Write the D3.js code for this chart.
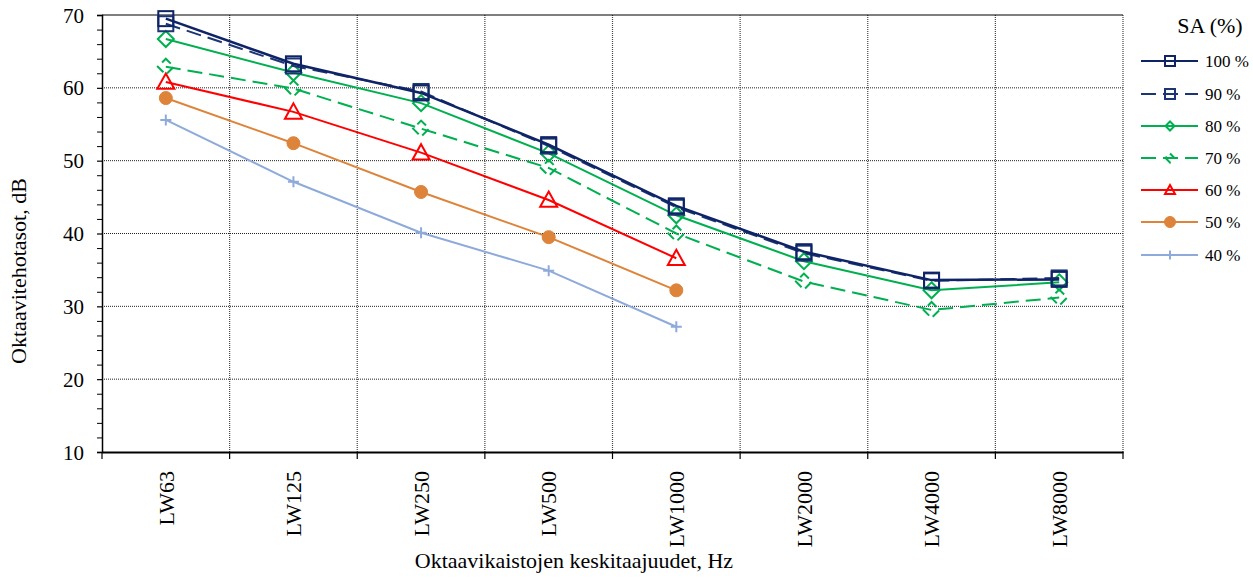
<!DOCTYPE html>
<html>
<head>
<meta charset="utf-8">
<script src="https://cdn.jsdelivr.net/npm/d3@7/dist/d3.min.js"></script>
<style>
  html, body { margin: 0; padding: 0; background: #fff; }
  svg { display: block; font-family: "Liberation Serif", "Times New Roman", serif; }
</style>
</head>
<body>
<svg id="chart" width="1253" height="585"></svg>
<script>
// ---- data ----
const categories = ["LW63", "LW125", "LW250", "LW500", "LW1000", "LW2000", "LW4000", "LW8000"];
const seriesNames = ["100 %", "90 %", "80 %", "70 %", "60 %", "50 %", "40 %"];
const sa100 = [69.5, 63.3, 59.3, 52.2, 43.8, 37.5, 33.6, 33.7];
const sa90  = [68.8, 63.0, 59.5, 52.0, 43.6, 37.3, 33.5, 33.9];
const sa80  = [66.7, 62.1, 57.9, 51.0, 42.5, 36.2, 32.2, 33.3];
const sa70  = [62.9, 59.9, 54.4, 49.0, 40.0, 33.4, 29.5, 31.2];
const sa60  = [60.8, 56.7, 51.1, 44.6, 36.6, null, null, null];
const sa50  = [58.6, 52.4, 45.7, 39.5, 32.2, null, null, null];
const sa40  = [55.6, 47.1, 40.1, 34.9, 27.2, null, null, null];
const yTicks = [10, 20, 30, 40, 50, 60, 70];
const yTitle = "Oktaavitehotasot, dB";
const xTitle = "Oktaavikaistojen keskitaajuudet, Hz";
const legendTitle = "SA (%)";

const seriesValues = [sa100, sa90, sa80, sa70, sa60, sa50, sa40];
const styles = [
  { color: "#0e2466", dash: null,   marker: "square",   width: 2.5 },
  { color: "#1c3574", dash: "15,7", marker: "square",   width: 2 },
  { color: "#00b050", dash: null,   marker: "diamond",  width: 2 },
  { color: "#00b050", dash: "15,7", marker: "diamond",  width: 2, markerDash: true },
  { color: "#ff0000", dash: null,   marker: "triangle", width: 2 },
  { color: "#dd843a", dash: null,   marker: "circle",   width: 2 },
  { color: "#8eaadb", dash: null,   marker: "plus",     width: 2 }
];

// ---- layout ----
const svg = d3.select("#chart");
const L = 102, R = 1123, T = 15, B = 452;

const x = d3.scaleBand().domain(categories).range([L, R]).padding(0);
const y = d3.scaleLinear().domain([10, 70]).range([B, T]);
const cx = c => x(c) + x.bandwidth() / 2;

// gridlines (dotted)
const grid = svg.append("g");
yTicks.filter(t => t > 10 && t < 70).forEach(t => {
  grid.append("line").attr("x1", L).attr("x2", R).attr("y1", y(t)).attr("y2", y(t))
    .attr("stroke", "#222").attr("stroke-width", 1).attr("stroke-dasharray", "1,1");
});
const bounds = categories.map(c => x(c)).slice(1).concat([R]);
bounds.forEach(bx => {
  grid.append("line").attr("x1", bx).attr("x2", bx).attr("y1", T).attr("y2", B)
    .attr("stroke", "#444").attr("stroke-width", 1.2).attr("stroke-dasharray", "1,1");
});
// top border
svg.append("line").attr("x1", L).attr("x2", R).attr("y1", T).attr("y2", T)
  .attr("stroke", "#000").attr("stroke-width", 1.2);

// y axis
const yAxis = d3.axisLeft(y).tickValues(yTicks).tickSize(5).tickFormat(d3.format("d"));
const gy = svg.append("g").attr("transform", `translate(${L},0)`).call(yAxis);
gy.select(".domain").attr("stroke", "#000").attr("stroke-width", 1.5);
gy.selectAll(".tick line").attr("stroke", "#000").attr("stroke-width", 1.2);
gy.selectAll(".tick text").attr("font-size", 21).attr("fill", "#000")
  .attr("font-family", "Liberation Serif").attr("x", -18).attr("dy", "0.34em");
const minor = d3.range(12, 70, 2).filter(v => v % 10 !== 0);
const yMinor = d3.axisLeft(y).tickValues(minor).tickSize(5).tickFormat("");
const gym = svg.append("g").attr("transform", `translate(${L},0)`).call(yMinor);
gym.select(".domain").remove();
gym.selectAll(".tick line").attr("stroke", "#000").attr("stroke-width", 1);

// x axis
const xAxis = d3.axisBottom(x).tickSize(0).tickFormat(d => d);
const gx = svg.append("g").attr("transform", `translate(0,${B})`).call(xAxis);
gx.select(".domain").attr("stroke", "#000").attr("stroke-width", 2);
gx.selectAll(".tick text")
  .attr("font-size", 22).attr("fill", "#000").attr("font-family", "Liberation Serif")
  .attr("text-anchor", "end").attr("dy", "0.35em")
  .attr("transform", "translate(0,19) rotate(-90)").attr("x", 0).attr("y", 0);
[L].concat(bounds).forEach(bx => {
  svg.append("line").attr("x1", bx).attr("x2", bx).attr("y1", B).attr("y2", B + 7)
    .attr("stroke", "#000").attr("stroke-width", 1.2);
});

// axis titles
svg.append("text").attr("transform", "translate(26,271) rotate(-90)")
  .attr("text-anchor", "middle").attr("font-size", 22).attr("fill", "#000").text(yTitle);
svg.append("text").attr("x", 574).attr("y", 568)
  .attr("text-anchor", "middle").attr("font-size", 22).attr("fill", "#000").text(xTitle);

// markers
function marker(g, type, px, py, s, st) {
  const h = s / 2;
  let m;
  if (type === "square") {
    m = g.append("rect").attr("x", px - h).attr("y", py - h).attr("width", s).attr("height", s)
      .attr("fill", "none").attr("stroke", st.color).attr("stroke-width", 2);
  } else if (type === "diamond") {
    m = g.append("path").attr("d", `M${px},${py - h}L${px + h},${py}L${px},${py + h}L${px - h},${py}Z`)
      .attr("fill", "none").attr("stroke", st.color).attr("stroke-width", 2);
    if (st.markerDash) m.attr("stroke-dasharray", "9,5").attr("stroke-dashoffset", 2);
  } else if (type === "triangle") {
    m = g.append("path").attr("d", `M${px},${py - h}L${px + h},${py + h * 0.8}L${px - h},${py + h * 0.8}Z`)
      .attr("fill", "none").attr("stroke", st.color).attr("stroke-width", 2);
  } else if (type === "circle") {
    m = g.append("circle").attr("cx", px).attr("cy", py).attr("r", h)
      .attr("fill", st.color).attr("stroke", st.color).attr("stroke-width", 1);
  } else if (type === "plus") {
    g.append("path").attr("d", `M${px - h},${py}H${px + h}M${px},${py - h}V${py + h}`)
      .attr("stroke", st.color).attr("stroke-width", 2).attr("fill", "none");
  }
}
const markerSize = { square: 15, diamond: 16, triangle: 17, circle: 13, plus: 11 };
const legendMarkerSize = { square: 10, diamond: 9, triangle: 10, circle: 11, plus: 9 };

// series
const line = d3.line().defined(d => d.v != null).x(d => cx(d.c)).y(d => y(d.v));
const order = [6, 5, 4, 3, 2, 1, 0];
order.forEach(i => {
  const st = styles[i];
  const pts = categories.map((c, j) => ({ c, v: seriesValues[i][j] })).filter(d => d.v != null);
  const g = svg.append("g");
  g.append("path").datum(pts).attr("d", line).attr("fill", "none")
    .attr("stroke", st.color).attr("stroke-width", st.width)
    .attr("stroke-dasharray", st.dash);
  pts.forEach(d => marker(g, st.marker, cx(d.c), y(d.v), markerSize[st.marker], st));
});

// legend
const lg = svg.append("g");
lg.append("text").attr("x", 1210).attr("y", 25).attr("dy", "0.35em").attr("text-anchor", "middle")
  .attr("font-size", 22).attr("fill", "#000").text(legendTitle);
const rowY = [61, 94, 126, 158, 190, 222, 255];
seriesNames.forEach((name, i) => {
  const st = styles[i];
  const ry = rowY[i];
  lg.append("line").attr("x1", 1141).attr("x2", 1198).attr("y1", ry).attr("y2", ry)
    .attr("stroke", st.color).attr("stroke-width", 2).attr("stroke-dasharray", st.dash);
  marker(lg, st.marker, 1170, ry, legendMarkerSize[st.marker], Object.assign({}, st, { markerDash: st.markerDash }));
  lg.append("text").attr("x", 1205).attr("y", ry).attr("dy", "0.35em")
    .attr("font-size", 17).attr("fill", "#000").text(name);
});
</script>
</body>
</html>
